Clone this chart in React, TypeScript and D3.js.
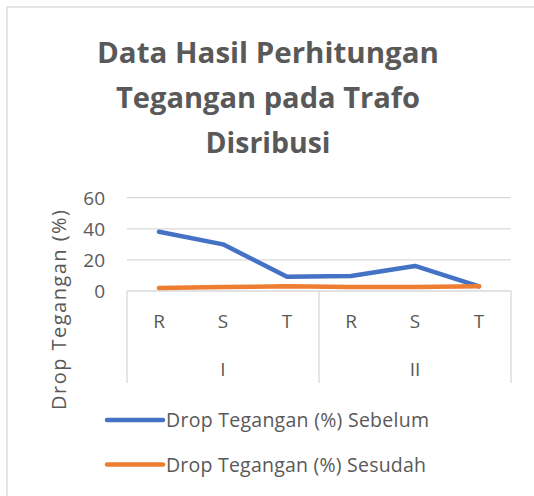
import React from "react"
import * as d3 from "d3"

const groups = ["I", "II"]
const phases = ["R", "S", "T"]
const seriesNames = ["Drop Tegangan (%) Sebelum", "Drop Tegangan (%) Sesudah"]
const sebelum = [38.1, 30.0, 9.2, 9.6, 16.1, 3.0]
const sesudah = [2.0, 2.5, 3.0, 2.5, 2.6, 3.1]
const yTicks = [0, 20, 40, 60]
const titleLines = ["Data Hasil Perhitungan", "Tegangan pada Trafo", "Disribusi"]

const colors = ["#4472C4", "#ED7D31"]
const textColor = "#595959"
const gridColor = "#D9D9D9"
const font = "'Open Sans', 'Noto Sans', sans-serif"

export default function App() {
  const width = 534, height = 496
  const plot = { left: 127, right: 511, top: 197.7, bottom: 291, axisBottom: 383 }

  // one key per point: group + phase
  const keys = groups.flatMap(g => phases.map(p => g + "-" + p))
  const x = d3.scaleBand().domain(keys).range([plot.left, plot.right])
  const y = d3.scaleLinear().domain([0, 60]).range([plot.bottom, plot.top])

  const line = d3.line<number>()
    .x((_, i) => x(keys[i])! + x.bandwidth() / 2)
    .y(d => y(d))

  const groupWidth = (plot.right - plot.left) / groups.length
  const titleWidths = [342, 304, 125]

  return (
    <svg width={width} height={height} style={{ position: "absolute", left: 0, top: 0, background: "#fff" }}>
      <rect x={7} y={7} width={600} height={600} fill="#fff" stroke={gridColor} strokeWidth={1.3} />

      {titleLines.map((t, i) => (
        <text key={t} x={268} y={63 + i * 45} textAnchor="middle" fill={textColor}
          fontFamily={font} fontWeight="bold" fontSize={28}
          textLength={titleWidths[i]} lengthAdjust="spacingAndGlyphs">{t}</text>
      ))}

      {yTicks.map(t => (
        <g key={t}>
          {t > 0 && <line x1={plot.left} x2={plot.right} y1={y(t)} y2={y(t)} stroke={gridColor} strokeWidth={1.3} />}
          <text x={105} y={y(t)} dy="0.36em" textAnchor="end" fill={textColor} fontFamily={font} fontSize={19}>{t}</text>
        </g>
      ))}

      {/* category axis */}
      <line x1={plot.left} x2={plot.right} y1={plot.bottom} y2={plot.bottom} stroke={gridColor} strokeWidth={1.3} />
      {d3.range(groups.length + 1).map(i => (
        <line key={i} x1={plot.left + i * groupWidth} x2={plot.left + i * groupWidth}
          y1={plot.bottom} y2={plot.axisBottom} stroke={gridColor} strokeWidth={1.3} />
      ))}
      {keys.map(k => (
        <text key={k} x={x(k)! + x.bandwidth() / 2} y={328} textAnchor="middle" fill={textColor}
          fontFamily={font} fontSize={19}>{k.split("-")[1]}</text>
      ))}
      {groups.map((g, i) => (
        <text key={g} x={plot.left + (i + 0.5) * groupWidth} y={376} textAnchor="middle" fill={textColor}
          fontFamily={font} fontSize={19}>{g}</text>
      ))}

      <text transform="rotate(-90)" x={-310} y={66} textAnchor="middle" fill={textColor}
        fontFamily={font} fontSize={20} textLength={200} lengthAdjust="spacing">Drop Tegangan (%)</text>

      {[sebelum, sesudah].map((s, i) => (
        <path key={i} d={line(s)!} fill="none" stroke={colors[i]} strokeWidth={4.5}
          strokeLinecap="round" strokeLinejoin="round" />
      ))}

      {seriesNames.map((n, i) => (
        <g key={n} transform={`translate(0, ${420 + i * 44.5})`}>
          <line x1={107} x2={163} y1={0} y2={0} stroke={colors[i]} strokeWidth={4.5} strokeLinecap="round" />
          <text x={166} y={0} dy="0.36em" fill={textColor} fontFamily={font} fontSize={19.5}
            textLength={[263, 260][i]} lengthAdjust="spacing">{n}</text>
        </g>
      ))}
    </svg>
  )
}
